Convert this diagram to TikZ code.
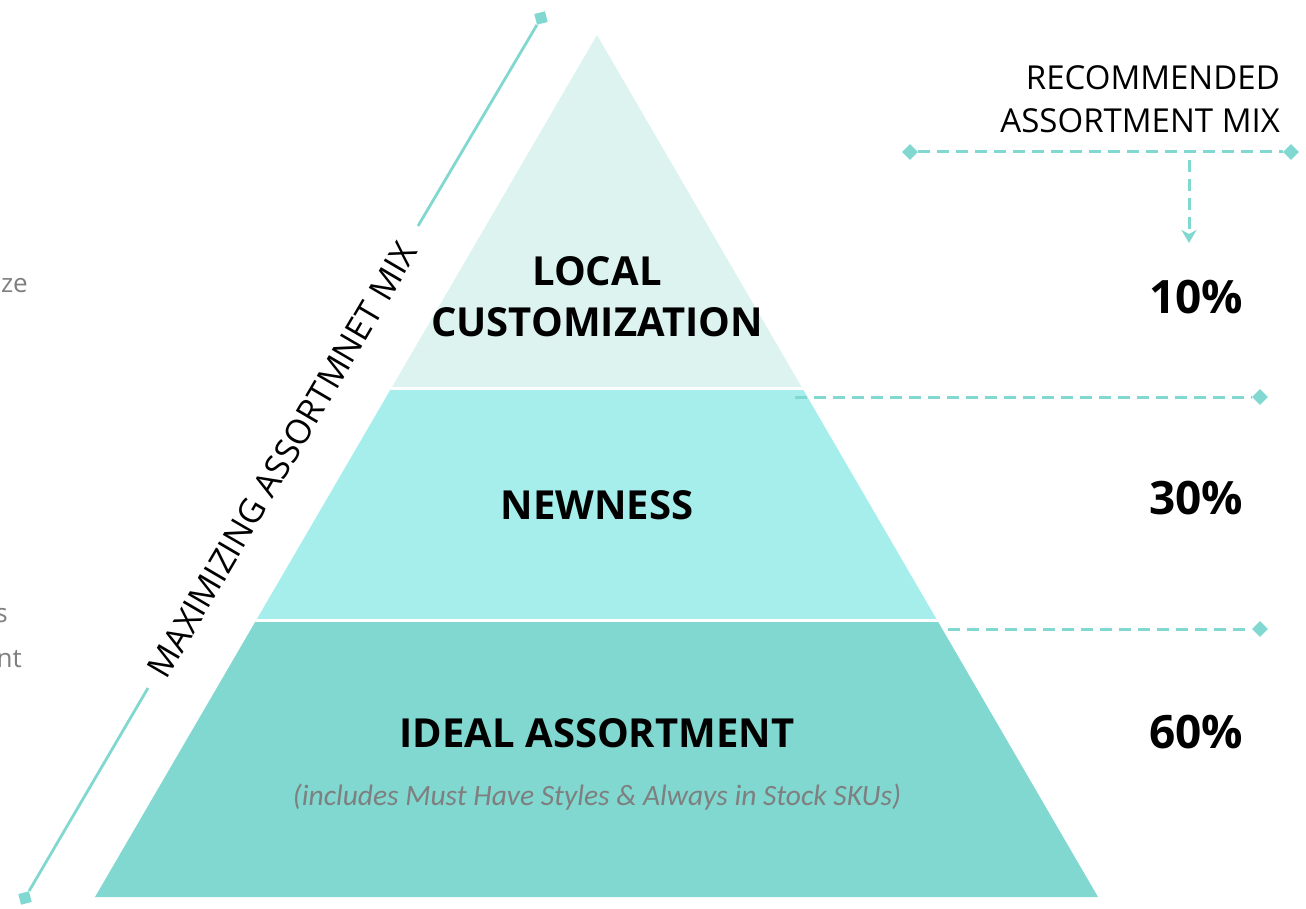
\documentclass[tikz,border=0pt]{standalone}
\usepackage{fontspec}
\setmainfont{Open Sans}
\newfontfamily\notefont{Carlito}
\usetikzlibrary{shapes.geometric,arrows.meta}
\definecolor{tealA}{HTML}{80D8D0}
\definecolor{tealB}{HTML}{A5EEEC}
\definecolor{tealC}{HTML}{DCF3F0}
\definecolor{greytext}{HTML}{7F7F7F}

\begin{document}
\begin{tikzpicture}[x=1pt,y=-1pt,
  dmd/.style={diamond,fill=tealA,inner sep=0pt,minimum size=16pt},
  axtip/.style={rectangle,fill=tealA,inner sep=0pt,minimum size=11pt,rotate=14.6},
  guide/.style={draw=tealA,line width=3pt,dash pattern=on 12pt off 7pt},
  axisline/.style={draw=tealA,line width=2.8pt},
  tier/.style={font=\bfseries\fontsize{40}{51}\selectfont,align=center,inner sep=0pt},
  pct/.style={font=\bfseries\fontsize{46}{50}\selectfont,inner sep=0pt},
  plain/.style={font=\fontsize{33}{40}\selectfont,inner sep=0pt},
  side/.style={font=\fontsize{26}{30}\selectfont,text=greytext,inner sep=0pt}]
\useasboundingbox (0,0) rectangle (1306,909);

% pyramid with three tiers
\coordinate (apex) at (597,35);
\coordinate (bl) at (95,897);
\coordinate (br) at (1098,897);
\begin{scope}
  \clip (apex) -- (bl) -- (br) -- cycle;
  \fill[tealC] (0,0) rectangle (1306,388.5);
  \fill[tealB] (0,388.5) rectangle (1306,620.5);
  \fill[tealA] (0,620.5) rectangle (1306,909);
  \draw[white,line width=2.5pt] (0,388.5) -- (1306,388.5);
  \draw[white,line width=2.5pt] (0,620.5) -- (1306,620.5);
\end{scope}

% tier labels
\node[tier] (local) at (597,297) {LOCAL\\CUSTOMIZATION};
\node[tier] (newness) at (597,505) {NEWNESS};
\node[tier] (ideal) at (597,733) {IDEAL ASSORTMENT};
\node[inner sep=0pt,text=greytext,font=\notefont\itshape\fontsize{29.5}{32}\selectfont] (note) at (597,797)
  {(includes Must Have Styles \& Always in Stock SKUs)};

% slanted axis along the left side
\node[axtip] (axtop) at (541,18) {};
\node[axtip] (axbot) at (25,898) {};
\coordinate (gapA) at (418,226);
\coordinate (gapB) at (148,688);
\draw[axisline] (axtop) -- (gapA);
\draw[axisline] (gapB) -- (axbot);
\node[rotate=59.6,font=\fontsize{34}{40}\selectfont,inner sep=0pt] (axlabel) at (282,460) {MAXIMIZING ASSORTMNET MIX};

% mix header and guides
\node[plain,anchor=base east] (rec1) at (1280,90) {RECOMMENDED};
\node[plain,anchor=base east] (rec2) at (1280,133) {ASSORTMENT MIX};
\node[dmd] (hdL) at (910,152) {};
\node[dmd] (hdR) at (1291,152) {};
\draw[guide] (hdL) -- (hdR);
\coordinate (arrS) at (1189,160);
\coordinate (arrE) at (1189,243);
\draw[guide,-{Stealth[length=13pt,width=15pt,inset=4pt]}] (arrS) -- (arrE);

\coordinate (g1s) at (795,397);
\node[dmd] (g1e) at (1260,397) {};
\draw[guide] (g1s) -- (g1e);
\coordinate (g2s) at (948,629);
\node[dmd] (g2e) at (1260,629) {};
\draw[guide] (g2s) -- (g2e);

% percentages
\node[pct] (p10) at (1196,297) {10\%};
\node[pct] (p30) at (1196,498) {30\%};
\node[pct] (p60) at (1196,732) {60\%};

% text running in from the left edge
\node[side,anchor=base east] (sideA) at (28,292) {ze};
\node[side,anchor=base east] (sideB) at (8,622) {s};
\node[side,anchor=base east] (sideC) at (22,667) {nt};
\end{tikzpicture}
\end{document}
